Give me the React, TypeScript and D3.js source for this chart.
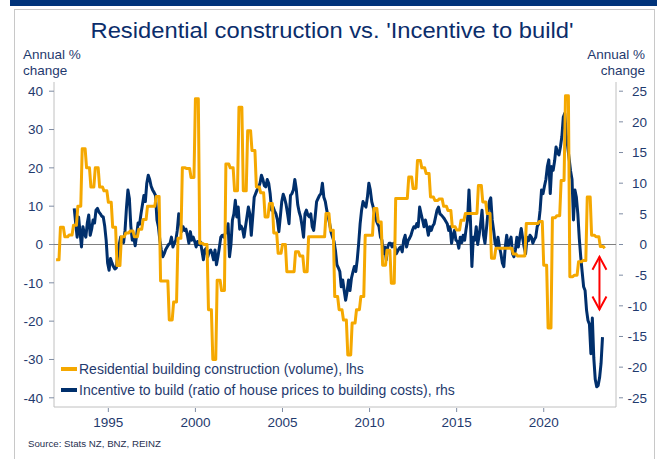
import React from "react";
import * as d3 from "d3";

// Residential building construction (volume), annual % change, quarterly from 1992 Q1 (lhs)
const constructionStart = 1992;
const construction = [
  -4, 4.5, 2, 2.5, // 1992
  5, 10, 25, 20, // 1993
  15, 20, 15, 14, // 1994
  11, 4.5, -5.5, 2, // 1995
  3, 3.5, 2, 4, // 1996
  6.5, 10, 10, 12.5, // 1997
  -9.5, -9.5, -19.7, -15, // 1998
  1.6, 20, 19.8, 17.5, // 1999
  38, 0.3, 0, -17, // 2000
  -30, -9.3, -12, 21, // 2001
  20, 14, 35.8, 14, // 2002
  29.7, 24.5, 15, 13.5, // 2003
  7.2, 10.7, 3, -2.3, // 2004
  0, -7.1, -7.1, -1.9, // 2005
  -3, -7.1, 2, 2, // 2006
  2, 2, 8.1, 3.7, // 2007
  -13.6, -17, -19.7, -28.8, // 2008
  -20.5, -17, -13.6, 2.4, // 2009
  2.4, 9.4, 5.9, -5.4, // 2010
  -1.5, -10.1, 12, 12, // 2011
  12, 17.6, 14.6, 21.9, // 2012
  20, 18.5, 12.4, 11.5, // 2013
  11.9, 10, 8.9, 4.6, // 2014
  3.8, 6.3, 8.1, 8.1, // 2015
  8.1, 15.4, 11.1, 8.1, // 2016
  -3.6, -1, -1, -1, // 2017
  -1, -2.5, -3, -3, // 2018
  5.5, 5.5, 5.5, 6, // 2019
  -5.4, -21.8, 7, 7.5, // 2020
  16.7, 38.8, -8.4, -8, // 2021
  -4.5, -4.2, 12.4, 2.4, // 2022
  2, -0.5, -1, // 2023
];

// Incentive to build (ratio of house prices to building costs), annual % change, monthly from Jan 1993 (rhs)
const incentiveStart = 1993;
const incentive = [
  5.9, 3.5, 1.2, 4.5, 2, -0.4, 2.9, 1.8, 1.2, 3.5, 4.8, 1.5, // 1993
  2.5, 4, 3.5, 5.6, 5.9, 5.3, 5, 4.6, 4.5, 3, 0.7, -3, // 1994
  -4.2, -2.3, -3, -3.6, -4, -3.8, -1.5, 0, 1.2, 1, 0.3, 2.3, // 1995
  6, 8.9, 7.5, 3, 0.7, 1.2, -0.2, 1.5, 3.5, 3.3, 5, 6.5, // 1996
  8, 7, 10, 11.3, 10.6, 9.5, 8.9, 8.5, 8, 4, 2.9, 0.7, // 1997
  -0.9, -2, -1.5, -0.8, -0.4, 0, 0.2, 1.2, -0.4, 0.2, 0.7, 2.3, // 1998
  5, 4, 2.1, 2.9, 2.3, 2.5, 1.5, 0.2, 2.1, 0.7, 1.2, 0.5, // 1999
  -0.4, 0.5, 0, 0.4, -1, -2.5, -0.9, -0.6, -2, -1.2, -0.9, -1.5, // 2000
  -2.5, -0.9, -3.3, -2, -0.5, 1.2, 1.5, 1.2, 1.8, 2.1, 3.4, -2, // 2001
  0, 4, 5, 7.2, 4.5, 6.1, 2.5, 3, 2.5, 1.2, 2.9, 4.5, // 2002
  6.1, 5, 1.5, 4.5, 7.7, 8.3, 8.9, 9.4, 10, 11.3, 10.6, 9.6, // 2003
  9.4, 10.6, 10, 8.3, 5.6, 6.1, 5.5, 5, 4, 2.1, 4.5, 7, // 2004
  8.2, 7.5, 6.5, 5, 3.4, 8, 8.3, 8.9, 10.6, 9, 6.5, 5.3, // 2005
  4.5, 3, 1.2, 5, 5.6, 4.8, 4.5, 5, 2.9, 2.3, 4.5, 7, // 2006
  7.5, 8, 8.3, 10, 7.7, 7, 5.6, 4.5, 3.4, 2, 1.2, 0.5, // 2007
  -1, -3.3, -3.8, -4.4, -6.9, -5.8, -7.5, -9.1, -7.7, -5.8, -7.5, -5.5, // 2008
  -4.5, -3.6, -4.4, -2.5, 0.2, 3.4, 5.6, 7, 6.5, 6.1, 7.7, 10, // 2009
  8.9, 7, 6.1, 5, 4, 3.4, 2.9, 1.2, 0.7, -1.5, -0.4, -2.5, // 2010
  -0.4, 0.2, 0.2, -0.4, 0.2, -0.4, -1.5, -1, -0.6, -0.4, -1.2, 0.7, // 2011
  1.5, -0.4, 0.6, 1, 1.5, 2.3, 2.9, 2.7, 3.4, 2.9, 6.1, 5, // 2012
  4, 2.9, 4, 2.9, 1.5, 2.9, 2.3, 3, 3.4, 4.5, 5.6, 6.1, // 2013
  5, 4.8, 4.5, 4.2, 3.8, 3.4, 2.3, 2.9, 0.2, 1.5, 2.3, 0.7, // 2014
  0.5, -0.6, 1.2, 0.3, 1.5, 0.7, 2.5, 4, 8.9, 4, -3.6, 1.2, // 2015
  0.7, 2.9, 0, 1.5, 3.4, 5.6, 1.5, 0.2, 2.5, 5, 7, 7.6, // 2016
  4, 2.3, 0.2, -0.4, 1.2, -0.4, -1.5, -3, -3.6, -0.4, 1.5, -0.4, // 2017
  0.5, 1.2, -1.5, -2, -0.9, 1.2, -0.4, 1.2, 2.6, 1, -0.4, -1.5, // 2018
  1.2, 0.6, 1.5, 1.2, 0.2, 0.8, 1.2, 2.9, 3.4, 5.6, 8.9, 8.3, // 2019
  9.5, 10.6, 12.7, 13.8, 8.3, 12.7, 12.1, 13.6, 15.9, 15, 14.6, 15.9, // 2020
  17.6, 20.8, 21.4, 18, 16, 14, 12, 10.6, 4, 8.9, 7.7, 5, // 2021
  1, -2, -4.5, -6.9, -7.5, -10.7, -12.4, -13, -17.8, -12, -18.5, -22, // 2022
  -23.2, -23, -21.7, -19.4, -15.1, // 2023
];

const xTicks = [1995, 2000, 2005, 2010, 2015, 2020];
const lhsTicks = [40, 30, 20, 10, 0, -10, -20, -30, -40];
const rhsTicks = [25, 20, 15, 10, 5, 0, -5, -10, -15, -20, -25];
const legendLabels = [
  "Residential building construction (volume), lhs",
  "Incentive to build (ratio of house prices to building costs), rhs",
];
// red double arrow: date and rhs values of its two tips
const arrowDate = 2023.2;
const arrowTips = [-2, -10.6];

const title = "Residential construction vs. 'Incentive to build'";
const source = "Source: Stats NZ, BNZ, REINZ";

const ORANGE = "#F5A800";
const NAVY = "#002F6C";
const TEXT = "#1F3A6E";
const FONT = "Arial, 'Liberation Sans', sans-serif";

export default function App() {
  const width = 657;
  const height = 459;
  const plot = { left: 54, right: 616, top: 82, bottom: 407 };

  const x = d3.scaleLinear().domain([1991.88, 2024.15]).range([plot.left, plot.right]);
  const yL = d3.scaleLinear().domain([-42.4, 42.4]).range([plot.bottom, plot.top]);
  const yR = d3.scaleLinear().domain([-26.5, 26.5]).range([plot.bottom, plot.top]);

  // each quarterly value is held over its three months (plotted on a monthly axis)
  const constructionPts: [number, number][] = [];
  construction.forEach((v, i) => {
    const t = constructionStart + i / 4;
    constructionPts.push([t, v]);
    if (i < construction.length - 1) constructionPts.push([t + 2 / 12, v]);
  });

  const constructionLine = d3
    .line<[number, number]>()
    .x((d) => x(d[0]))
    .y((d) => yL(d[1]));

  const incentiveLine = d3
    .line<number>()
    .x((d, i) => x(incentiveStart + (i + 0.5) / 12))
    .y((d) => yR(d));

  const ax = x(arrowDate);
  const a1 = yR(arrowTips[0]);
  const a2 = yR(arrowTips[1]);

  return (
    <svg
      width={width}
      height={height}
      style={{ position: "absolute", left: 0, top: 0, background: "#fff" }}
      fontFamily={FONT}
    >
      {/* frame */}
      <rect x={10} y={0} width={width - 10} height={6} fill="#00337A" />
      <rect x={14.5} y={9.5} width={640} height={470} fill="none" stroke="#C8C8C8" />

      {/* titles */}
      <text x={332} y={38} fontSize={22} textAnchor="middle" fill="#0B2D6B" textLength={483} lengthAdjust="spacingAndGlyphs">
        {title}
      </text>
      <text x={23} y={59} fontSize={13.5} fill={TEXT}>Annual %</text>
      <text x={23} y={75} fontSize={13.5} fill={TEXT}>change</text>
      <text x={645} y={59} fontSize={13.5} fill={TEXT} textAnchor="end">Annual %</text>
      <text x={645} y={75} fontSize={13.5} fill={TEXT} textAnchor="end">change</text>

      {/* axes */}
      <line x1={plot.left} x2={plot.left} y1={plot.top} y2={plot.bottom} stroke="#C0C0C0" />
      <line x1={plot.right} x2={plot.right} y1={plot.top} y2={plot.bottom} stroke="#C0C0C0" />
      <line x1={plot.left} x2={plot.right} y1={plot.bottom} y2={plot.bottom} stroke="#C0C0C0" />
      <line x1={plot.left} x2={plot.right} y1={yL(0)} y2={yL(0)} stroke="#808080" />

      {lhsTicks.map((t) => (
        <g key={"l" + t}>
          <line x1={plot.left - 5} x2={plot.left} y1={yL(t)} y2={yL(t)} stroke="#7F8CA3" />
          <text x={43} y={yL(t)} dy="0.35em" fontSize={13.5} fill={TEXT} textAnchor="end">
            {t}
          </text>
        </g>
      ))}
      {rhsTicks.map((t) => (
        <g key={"r" + t}>
          <line x1={plot.right + 3} x2={plot.right + 7} y1={yR(t)} y2={yR(t)} stroke="#7F8CA3" />
          <text x={647} y={yR(t)} dy="0.35em" fontSize={13.5} fill={TEXT} textAnchor="end">
            {t}
          </text>
        </g>
      ))}
      {xTicks.map((t) => (
        <g key={"x" + t}>
          <line x1={x(t)} x2={x(t)} y1={plot.bottom + 1} y2={plot.bottom + 5} stroke="#7F8CA3" />
          <text x={x(t)} y={427} fontSize={13.5} fill={TEXT} textAnchor="middle">
            {t}
          </text>
        </g>
      ))}

      {/* series */}
      <path d={incentiveLine(incentive) ?? ""} fill="none" stroke={NAVY} strokeWidth={3} strokeLinejoin="round" />
      <path d={constructionLine(constructionPts) ?? ""} fill="none" stroke={ORANGE} strokeWidth={3} strokeLinejoin="round" />

      {/* red arrow */}
      <g stroke="#FF0000" strokeWidth={2} fill="none">
        <line x1={ax} x2={ax} y1={a1} y2={a2} />
        <polyline points={`${ax - 7},${a1 + 13} ${ax},${a1} ${ax + 7},${a1 + 13}`} />
        <polyline points={`${ax - 7},${a2 - 13} ${ax},${a2} ${ax + 7},${a2 - 13}`} />
      </g>

      {/* legend */}
      {legendLabels.map((label, i) => (
        <g key={label} transform={`translate(61, ${369 + i * 21})`}>
          <line x1={0} x2={16} y1={0} y2={0} stroke={i === 0 ? ORANGE : NAVY} strokeWidth={4} />
          <text x={18} y={0} dy="0.35em" fontSize={14} fill={TEXT}>
            {label}
          </text>
        </g>
      ))}

      <text x={28} y={447} fontSize={9.7} fill="#1F2F4F">
        {source}
      </text>
    </svg>
  );
}
